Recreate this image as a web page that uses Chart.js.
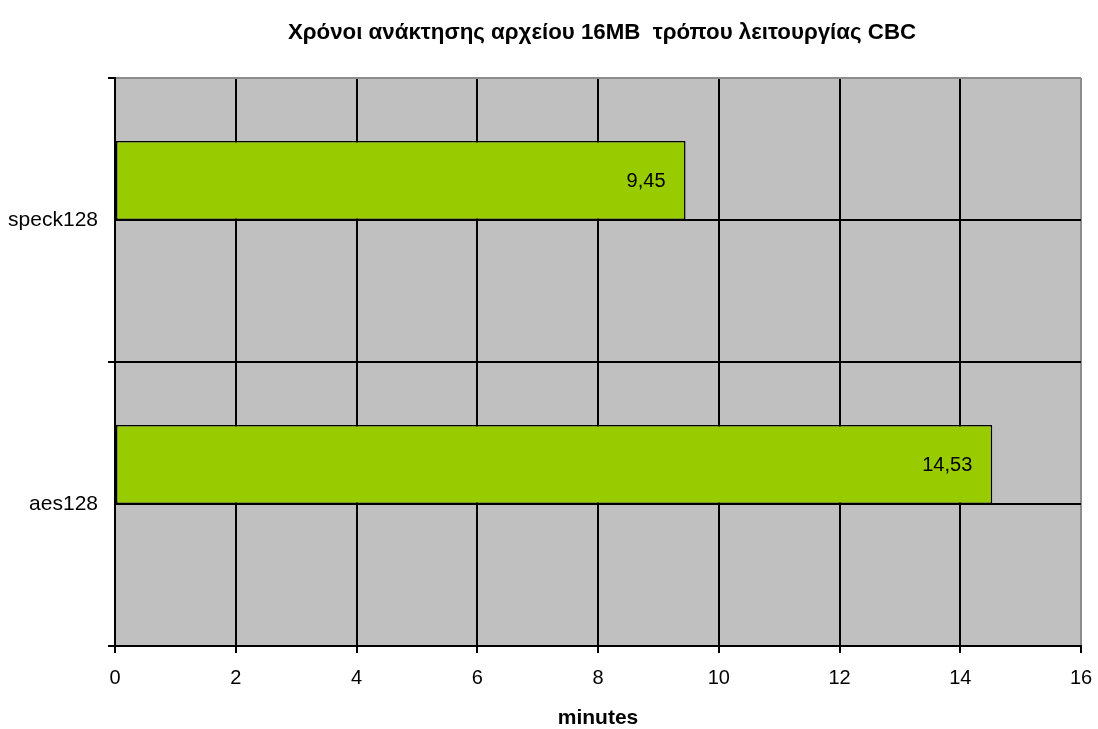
<!DOCTYPE html>
<html>
<head>
<meta charset="utf-8">
<script src="https://cdn.jsdelivr.net/npm/chart.js@4/dist/chart.umd.min.js"></script>
<style>
  html, body { margin: 0; padding: 0; background: #ffffff; }
  canvas { display: block; }
</style>
</head>
<body>
<canvas id="c" width="1098" height="729"></canvas>
<script>
// Retrieval times for a 16MB file in CBC mode (minutes)
const chartTitle = 'Χρόνοι ανάκτησης αρχείου 16MB  τρόπου λειτουργίας CBC';
const categories = ['speck128', 'aes128'];
const minutes = [9.45, 14.53];
const emptySeries = [null, null];   // second (empty) series of the workbook
const xTicks = [0, 2, 4, 6, 8, 10, 12, 14, 16];
const xAxisTitle = 'minutes';

const FONT = "'Liberation Sans', Arial, sans-serif";
const GRID = '#000000';
const EDGE = '#8c8c8c';
const LINE_W = 2;

// Gray plot background and title centered over the plot area
const plotDecor = {
  id: 'plotDecor',
  beforeDraw(chart) {
    const { ctx, chartArea: a } = chart;
    ctx.save();
    ctx.fillStyle = '#c0c0c0';
    ctx.fillRect(a.left, a.top, a.right - a.left, a.bottom - a.top);
    ctx.fillStyle = '#000000';
    ctx.font = 'bold 22.3px ' + FONT;
    ctx.textAlign = 'center';
    ctx.textBaseline = 'middle';
    ctx.fillText(chartTitle, (a.left + a.right) / 2 + 4, 33);
    ctx.restore();
  }
};

// Value labels at the inner end of each bar
const valueLabels = {
  id: 'valueLabels',
  afterDatasetsDraw(chart) {
    const { ctx } = chart;
    const meta = chart.getDatasetMeta(0);
    ctx.save();
    ctx.fillStyle = '#000000';
    ctx.font = '20px ' + FONT;
    ctx.textAlign = 'right';
    ctx.textBaseline = 'middle';
    meta.data.forEach((bar, i) => {
      const v = minutes[i];
      if (v == null) return;
      const txt = v.toFixed(2).replace('.', ',');
      ctx.fillText(txt, bar.x - 20, bar.y + 1);
    });
    ctx.restore();
  }
};

new Chart(document.getElementById('c'), {
  type: 'bar',
  data: {
    labels: categories,
    datasets: [
      {
        label: 'minutes',
        data: minutes,
        backgroundColor: '#99cc00',
        borderColor: '#000000',
        borderWidth: 1.5,
        borderSkipped: false,
        categoryPercentage: 0.557,
        barPercentage: 1.0
      },
      {
        label: '',
        data: emptySeries,
        backgroundColor: '#99cc00',
        categoryPercentage: 0.557,
        barPercentage: 1.0
      }
    ]
  },
  options: {
    indexAxis: 'y',
    responsive: false,
    animation: false,
    devicePixelRatio: 1,
    layout: { padding: { top: 78, right: 17, bottom: 0, left: 0 } },
    plugins: {
      legend: { display: false },
      title: { display: false },
      tooltip: { enabled: false }
    },
    scales: {
      x: {
        type: 'linear',
        position: 'bottom',
        min: 0,
        max: 16,
        afterBuildTicks(scale) { scale.ticks = xTicks.map(v => ({ value: v })); },
        afterFit(scale) {
          scale.height = 83;
          scale.paddingLeft = 0;
          scale.paddingRight = 0;
        },
        grid: {
          color: (c) => (c.tick && c.tick.value === 16 ? EDGE : GRID),
          lineWidth: LINE_W,
          tickColor: GRID,
          tickLength: 7,
          drawTicks: true
        },
        border: { display: true, color: '#000000', width: LINE_W },
        ticks: {
          color: '#000000',
          font: { family: FONT, size: 20 },
          padding: 13,
          maxRotation: 0
        },
        title: {
          display: true,
          text: xAxisTitle,
          color: '#000000',
          font: { family: FONT, size: 21, weight: 'bold' },
          padding: { top: 0, bottom: -2 }
        }
      },
      y: {
        type: 'category',
        position: 'left',
        offset: true,
        afterFit(scale) { scale.width = 115; },
        grid: {
          offset: true,
          color: (c) => (c.index === 0 ? EDGE : GRID),
          lineWidth: LINE_W,
          tickColor: GRID,
          tickLength: 7,
          drawTicks: true
        },
        border: { display: true, color: '#000000', width: LINE_W },
        ticks: {
          color: '#000000',
          font: { family: FONT, size: 21 },
          padding: 10
        }
      },
      yMid: {
        type: 'category',
        position: 'right',
        offset: true,
        afterFit(scale) { scale.width = 0; },
        grid: {
          offset: false,
          color: GRID,
          lineWidth: LINE_W,
          drawTicks: false
        },
        border: { display: false },
        ticks: { display: false }
      }
    }
  },
  plugins: [plotDecor, valueLabels]
});
</script>
</body>
</html>
